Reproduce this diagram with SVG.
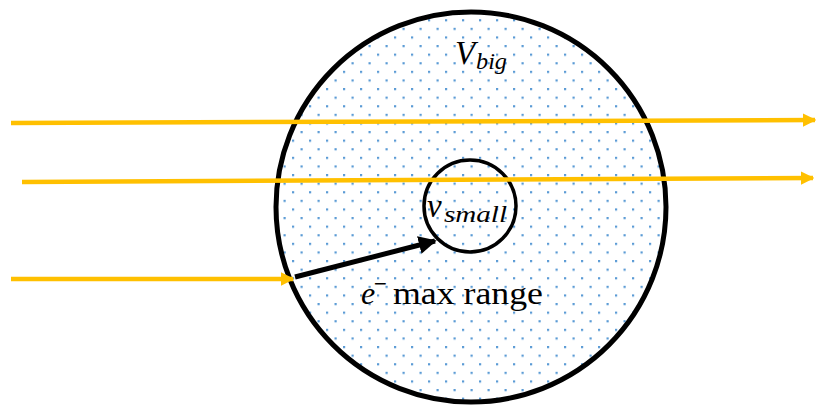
<svg xmlns="http://www.w3.org/2000/svg" width="816" height="405" viewBox="0 0 816 405">
<defs>
<pattern id="dots" width="17" height="17.2" patternUnits="userSpaceOnUse" x="3" y="2">
<rect x="0" y="0" width="2.2" height="2.2" fill="#5b9bd5"/>
<rect x="8.5" y="8.6" width="2.2" height="2.2" fill="#5b9bd5"/>
</pattern>
<marker id="ya" viewBox="0 0 10 10" refX="9" refY="5" markerWidth="3" markerHeight="3" orient="auto" markerUnits="strokeWidth">
<path d="M0,0 L10,5 L0,10 z" fill="#ffc000"/>
</marker>
<marker id="ba" viewBox="0 0 10 10" refX="9" refY="5" markerWidth="3.6" markerHeight="3.6" orient="auto" markerUnits="strokeWidth">
<path d="M0,0 L10,5 L0,10 z" fill="#000"/>
</marker>
<style>
.ray{stroke:#ffc000;stroke-width:4.5;fill:none}
.t{font-family:"Liberation Serif","DejaVu Serif",serif;fill:#000}
.it{font-style:italic}
</style>
</defs>
<g id="big-volume">
<circle cx="471" cy="207" r="195" fill="#fff"/>
<circle cx="471" cy="207" r="195" fill="url(#dots)" stroke="#000" stroke-width="5"/>
<text class="t it" x="455" y="64" font-size="33">V</text>
<text class="t it" x="476" y="69" font-size="24" textLength="31" lengthAdjust="spacingAndGlyphs">big</text>
</g>
<g id="small-volume">
<circle cx="470" cy="206" r="46" fill="none" stroke="#000" stroke-width="3.5"/>
<text class="t it" x="427" y="217" font-size="33">v</text>
<text class="t it" x="444" y="222" font-size="24" textLength="63" lengthAdjust="spacingAndGlyphs">small</text>
</g>
<g id="connectors">
<line class="ray" x1="11" y1="123" x2="815" y2="120" marker-end="url(#ya)"/>
<line class="ray" x1="22" y1="182" x2="813" y2="178" marker-end="url(#ya)"/>
<line class="ray" x1="11" y1="279" x2="293" y2="279" marker-end="url(#ya)"/>
<line x1="295" y1="277" x2="435" y2="241" stroke="#000" stroke-width="5" marker-end="url(#ba)"/>
</g>
<g id="label">
<text class="t it" x="361" y="304" font-size="32">e</text>
<text class="t" x="374" y="293" font-size="28" textLength="13" lengthAdjust="spacingAndGlyphs">−</text>
<text class="t" x="393" y="304" font-size="32" textLength="150" lengthAdjust="spacingAndGlyphs">max range</text>
</g>
</svg>
